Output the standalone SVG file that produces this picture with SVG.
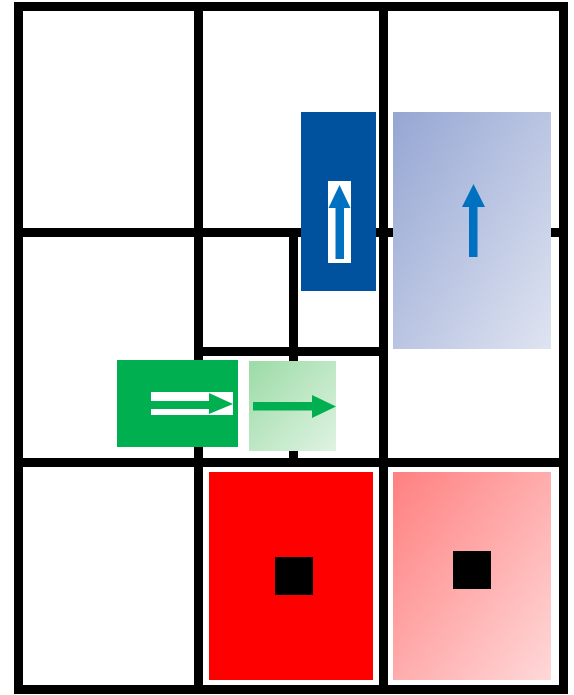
<svg xmlns="http://www.w3.org/2000/svg" width="574" height="695" viewBox="0 0 574 695">
<style>
.ln{stroke:#000;stroke-width:9;fill:none;stroke-linecap:square}
.sq{fill:#000}
</style>
<defs>
<linearGradient id="gBlue" x1="0" y1="0" x2="1" y2="1"><stop offset="0" stop-color="#95A6D3"/><stop offset="1" stop-color="#DFE4F1"/></linearGradient>
<linearGradient id="gGreen" x1="0" y1="0" x2="1" y2="1"><stop offset="0" stop-color="#9CDBA6"/><stop offset="1" stop-color="#DFF3E2"/></linearGradient>
<linearGradient id="gRed" x1="0" y1="0" x2="1" y2="1"><stop offset="0" stop-color="#FF8080"/><stop offset="1" stop-color="#FFD8D8"/></linearGradient>
</defs>
<rect width="574" height="695" fill="#fff"/>
<g id="connectors">
<rect class="ln" x="18.5" y="6.5" width="545" height="683"/>
<line class="ln" x1="198.5" y1="6.5" x2="198.5" y2="689.5"/>
<line class="ln" x1="383.5" y1="6.5" x2="383.5" y2="689.5"/>
<line class="ln" x1="18.5" y1="232.5" x2="563.5" y2="232.5"/>
<line class="ln" x1="18.5" y1="462.5" x2="563.5" y2="462.5"/>
<line class="ln" x1="293.5" y1="232.5" x2="293.5" y2="462.5"/>
<line class="ln" x1="198.5" y1="351.5" x2="383.5" y2="351.5"/>
</g>
<g id="blue-dark">
<rect x="301" y="112" width="75" height="179" fill="#00529F"/>
<rect x="328" y="181" width="23" height="82" fill="#fff"/>
<polygon points="339.5,185 328.5,208 350.5,208" fill="#0070C0"/>
<rect x="335.5" y="207" width="8.5" height="52" fill="#0070C0"/>
</g>
<g id="blue-light">
<rect x="393" y="112" width="158" height="237" fill="url(#gBlue)"/>
<polygon points="473.5,184 462,207 485,207" fill="#0070C0"/>
<rect x="469" y="206" width="8.5" height="51" fill="#0070C0"/>
</g>
<g id="green-dark">
<rect x="117" y="360" width="121" height="87" fill="#00B050"/>
<rect x="151" y="392" width="82" height="23" fill="#fff"/>
<rect x="151" y="401" width="59" height="8" fill="#00B050"/>
<polygon points="209,393 209,414 233,404" fill="#00B050"/>
</g>
<g id="green-light">
<rect x="249" y="361" width="87" height="90" fill="url(#gGreen)"/>
<rect x="253" y="402" width="60" height="8.5" fill="#00B050"/>
<polygon points="312,395 312,418 336,406.5" fill="#00B050"/>
</g>
<g id="red-dark">
<rect x="209" y="472" width="164" height="208" fill="#FF0000"/>
<rect class="sq" x="275" y="557" width="38" height="38"/>
</g>
<g id="red-light">
<rect x="393" y="472" width="158" height="208" fill="url(#gRed)"/>
<rect class="sq" x="453" y="551" width="38" height="38"/>
</g>
</svg>
